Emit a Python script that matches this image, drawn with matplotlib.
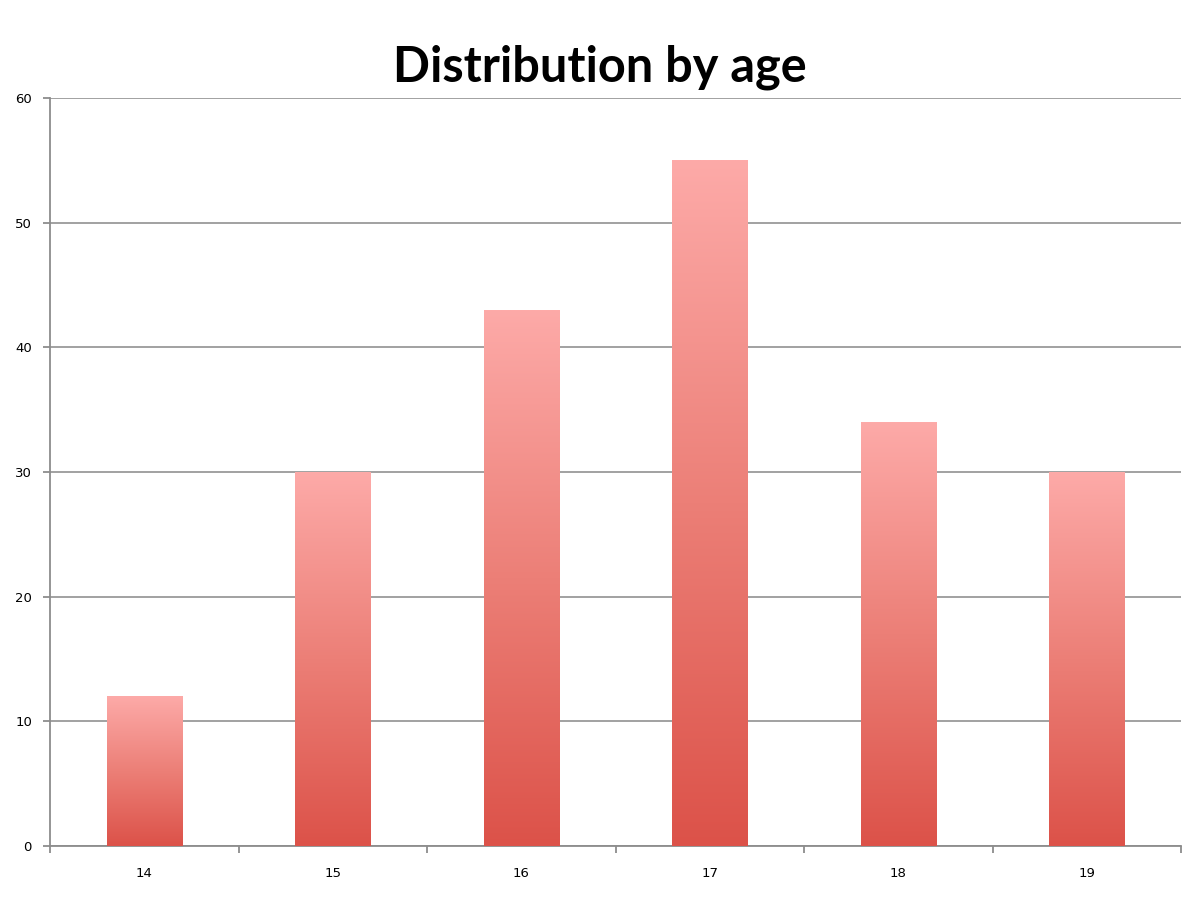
import matplotlib.pyplot as plt
import numpy as np
from matplotlib.colors import LinearSegmentedColormap

ages = ['14', '15', '16', '17', '18', '19']
counts = [12, 30, 43, 55, 34, 30]

grad = LinearSegmentedColormap.from_list('bar', ['#dc5249', '#ec7f77', '#fdaaa8'])

fig = plt.figure(figsize=(12, 9), dpi=100)
ax = fig.add_axes([0.0417, 0.06, 0.9425, 0.831])

x = np.arange(len(ages))
bars = ax.bar(x, counts, width=0.4, color='none', edgecolor='none', zorder=3)

# vertical gradient inside each bar
g = np.linspace(0, 1, 256).reshape(-1, 1)
for b in bars:
    x0, y0 = b.get_x(), b.get_y()
    w, h = b.get_width(), b.get_height()
    im = ax.imshow(g, cmap=grad, origin='lower', aspect='auto',
                   extent=[x0, x0 + w, y0, y0 + h], zorder=3)
    im.set_clip_path(b)

ax.set_xlim(-0.5, len(ages) - 0.5)
ax.set_ylim(0, 60)
ax.set_yticks(range(0, 61, 10))
ax.set_xticks(x)
ax.set_xticklabels(ages)
ax.set_xticks(np.arange(-0.5, len(ages), 1), minor=True)

ax.grid(axis='y', color='#9a9a9a', linewidth=1.3, zorder=0)
for s in ['top', 'right']:
    ax.spines[s].set_visible(False)
for s in ['left', 'bottom']:
    ax.spines[s].set_color('#8c8c8c')
    ax.spines[s].set_linewidth(1.3)

ax.tick_params(axis='x', which='major', length=0, pad=15, labelsize=9.5)
ax.tick_params(axis='x', which='minor', length=5, color='#8c8c8c', width=1.3)
ax.tick_params(axis='y', length=5, color='#8c8c8c', width=1.3, pad=8, labelsize=9.5)

fig.text(0.5, 0.925, 'Distribution by age', ha='center', va='center',
         fontsize=35, fontweight='bold', family='Lato')

fig.savefig('out.png', dpi=100, facecolor='white')
